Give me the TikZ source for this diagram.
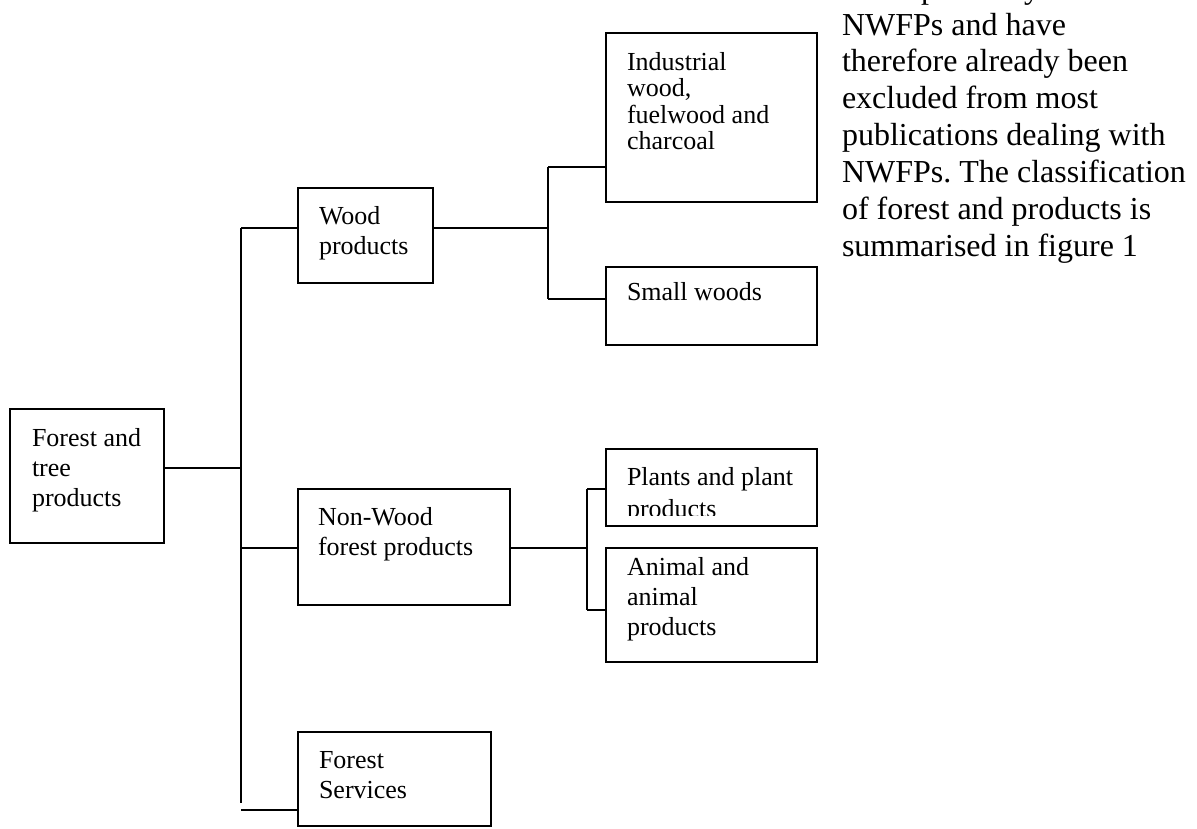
\documentclass[tikz,border=0pt]{standalone}
\usepackage{fontspec}
\setmainfont{Liberation Serif}
\tikzset{
  boxnode/.style={draw, line width=1.8pt, inner sep=0pt, outer sep=0pt, anchor=north west},
  link/.style={line width=1.6pt},
  boxtext/.style={anchor=base west, inner sep=0pt, outer sep=0pt},
}
\newcommand{\bxt}[2]{\parbox[t]{8cm}{\raggedright\fontsize{26}{#1}\selectfont #2}}
\begin{document}
\frenchspacing
\begin{tikzpicture}[x=1pt,y=-1pt]
\useasboundingbox (0,0) rectangle (1197,828);
\begin{scope}
\clip (0,0) rectangle (1197,828);
% boxes
\node[boxnode, minimum width=154pt, minimum height=134pt] (ft) at (10,409) {};
\node[boxnode, minimum width=135pt, minimum height=95pt] (wp) at (298,188) {};
\node[boxnode, minimum width=212pt, minimum height=116pt] (nw) at (298,489) {};
\node[boxnode, minimum width=193pt, minimum height=94pt] (fs) at (298,732) {};
\node[boxnode, minimum width=211pt, minimum height=169pt] (iw) at (606,33) {};
\node[boxnode, minimum width=211pt, minimum height=78pt] (sw) at (606,267) {};
\node[boxnode, minimum width=211pt, minimum height=77pt] (pl) at (606,449) {};
\node[boxnode, minimum width=211pt, minimum height=114pt] (an) at (606,548) {};
% texts
\node[boxtext] (ftt) at (32,446) {\bxt{30pt}{Forest and\\tree\\products}};
\node[boxtext] (wpt) at (319,224) {\bxt{30pt}{Wood\\products}};
\node[boxtext] (nwt) at (318,525) {\bxt{30pt}{Non-Wood\\forest products}};
\node[boxtext] (fst) at (319,768) {\bxt{30pt}{Forest\\Services}};
\node[boxtext] (iwt) at (627,70) {\bxt{26.5pt}{Industrial\\wood,\\fuelwood and\\charcoal}};
\node[boxtext] (swt) at (627,300) {\bxt{26.5pt}{Small woods}};
\begin{scope}
\clip (606,449) rectangle (817,515);
\node[boxtext] (plt) at (627,485) {\bxt{32pt}{Plants and plant\\products}};
\end{scope}
\node[boxtext] (ant) at (627,575) {\bxt{30pt}{Animal and\\animal\\products}};
% side paragraph
\node[boxtext] (para) at (842,-1.9) {\parbox[t]{20cm}{\raggedright\fontsize{32}{36.9}\selectfont
wood primarily\\NWFPs and have\\therefore already been\\excluded from most\\publications dealing with\\NWFPs. The classification\\of forest and products is\\summarised in figure 1}};
% junction coordinates
\coordinate (tTop) at (241,228);
\coordinate (tBot) at (241,803);
\coordinate (ftJ) at (241,468);
\coordinate (nwJ) at (241,548);
\coordinate (fsJ) at (241,810);
\coordinate (b1Top) at (548,167);
\coordinate (b1Mid) at (548,228);
\coordinate (b1Bot) at (548,299);
\coordinate (b2Top) at (587,489);
\coordinate (b2Mid) at (587,548);
\coordinate (b2Bot) at (587,610);
% connectors
\draw[link] (tTop) -- (tBot);
\draw[link] (ft.east |- ftJ) -- (ftJ);
\draw[link] (tTop) -- (wp.west |- tTop);
\draw[link] (nwJ) -- (nw.west |- nwJ);
\draw[link] (fsJ) -- (fs.west |- fsJ);
\draw[link] (b1Top) -- (b1Bot);
\draw[link] (wp.east |- b1Mid) -- (b1Mid);
\draw[link] (b1Top) -- (iw.west |- b1Top);
\draw[link] (b1Bot) -- (sw.west |- b1Bot);
\draw[link] (b2Top) -- (b2Bot);
\draw[link] (nw.east |- b2Mid) -- (b2Mid);
\draw[link] (b2Top) -- (pl.west |- b2Top);
\draw[link] (b2Bot) -- (an.west |- b2Bot);
\end{scope}
\end{tikzpicture}
\end{document}
